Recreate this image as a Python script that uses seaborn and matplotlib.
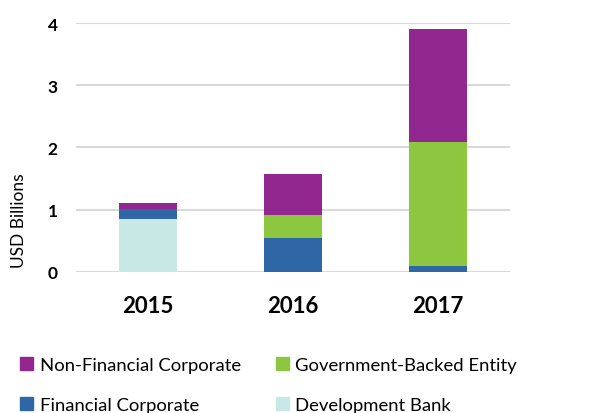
import matplotlib.pyplot as plt
import matplotlib.patches as mpatches
import seaborn as sns
import pandas as pd

years = ["2015", "2016", "2017"]
development_bank = [0.85, 0.0, 0.0]
financial_corporate = [0.16, 0.54, 0.09]
government_backed = [0.0, 0.38, 2.00]
non_financial = [0.09, 0.65, 1.81]

series = ["Development Bank", "Financial Corporate", "Government-Backed Entity", "Non-Financial Corporate"]
colors = {
    "Development Bank": "#c8e8e6",
    "Financial Corporate": "#2f67a6",
    "Government-Backed Entity": "#8dc63f",
    "Non-Financial Corporate": "#92278f",
}

df = pd.DataFrame({
    "year": years,
    "Development Bank": development_bank,
    "Financial Corporate": financial_corporate,
    "Government-Backed Entity": government_backed,
    "Non-Financial Corporate": non_financial,
})
# cumulative heights, drawn from the top layer down so each covers the one above
cum = df[series].cumsum(axis=1)

sns.set_style("white")
plt.rcParams["font.family"] = ["Lato", "DejaVu Sans"]
plt.rcParams["text.color"] = "black"
plt.rcParams["xtick.color"] = "black"
plt.rcParams["ytick.color"] = "black"

fig = plt.figure(figsize=(6.11, 4.14), dpi=100)
ax = fig.add_axes([0.124, 0.341, 0.711, 0.601])

for s in reversed(series):
    sns.barplot(x=df["year"], y=cum[s], color=colors[s], width=0.4,
                saturation=1, ax=ax, linewidth=0, zorder=3)

ax.set_ylim(0, 4)
ax.set_xlim(-0.5, 2.5)
ax.set_yticks([0, 1, 2, 3, 4])
ax.yaxis.grid(True, color="#d9d9d9", linewidth=1.5, zorder=0)
ax.set_axisbelow(True)
for sp in ax.spines.values():
    sp.set_visible(False)
ax.tick_params(axis="both", length=0)
ax.tick_params(axis="y", labelsize=12.5, pad=13)
ax.tick_params(axis="x", labelsize=16, pad=17)
for lbl in ax.get_xticklabels() + ax.get_yticklabels():
    lbl.set_fontweight("bold")
ax.set_xlabel(None)
ax.set_ylabel("USD Billions", fontsize=12.5, color="black")
ax.yaxis.set_label_coords(-0.113, 0.21)

legend_order = ["Non-Financial Corporate", "Financial Corporate", "Government-Backed Entity", "Development Bank"]
handles = [mpatches.Patch(color=colors[s], label=s) for s in legend_order]
fig.legend(handles=handles, ncol=2, loc="upper left", bbox_to_anchor=(0.018, 0.157),
           frameon=False, fontsize=13.3, handlelength=0.7, handleheight=0.7,
           handletextpad=0.35, columnspacing=1.9, labelspacing=1.3, borderpad=0)

fig.savefig("out.png", dpi=100)
